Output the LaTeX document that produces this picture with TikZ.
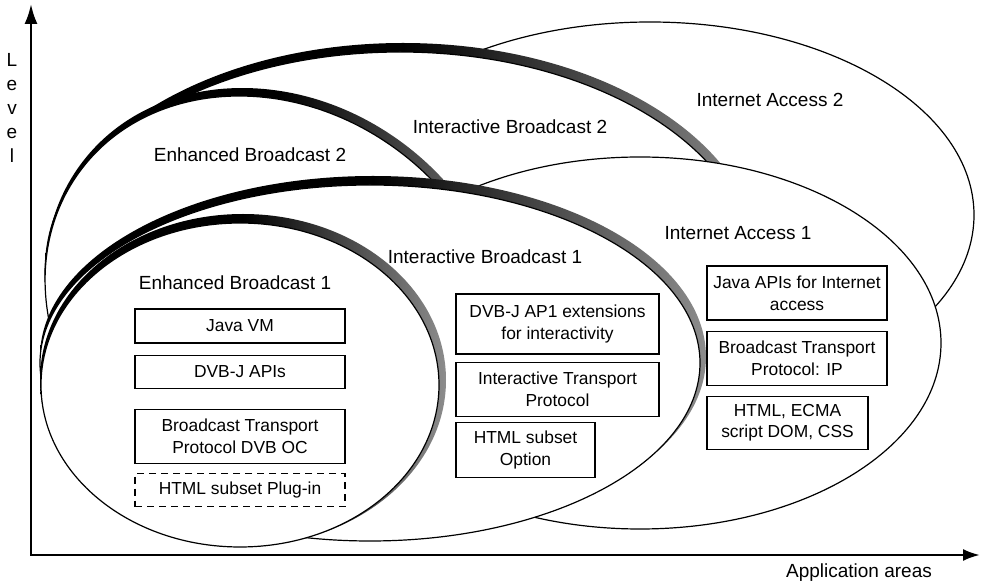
\documentclass[tikz,border=0pt]{standalone}
\usepackage{fontspec}
\setmainfont{Liberation Sans}
\usetikzlibrary{positioning, arrows.meta}
\tikzset{
	arealine/.style={draw=black, line width=0.6pt, fill=white},
	rimshade/.style={left color=black, right color=black!45, middle color=black},
	arealabel/.style={font=\fontsize{9.5}{11}\selectfont},
	block/.style={rectangle, draw=black, line width=0.6pt, fill=white,
		align=center, inner sep=1pt, font=\fontsize{8.7}{10.8}\selectfont},
	optblock/.style={block, dashed, dash pattern=on 3.5pt off 2.5pt},
	axisarrow/.style={{Latex[length=10pt, width=6.5pt]}-{Latex[length=8.5pt, width=6pt]},
		line width=1.25pt}
}
\begin{document}
\begin{tikzpicture}[x=0.5pt, y=-0.5pt]
			\useasboundingbox (0,0) rectangle (981,587);

			\filldraw[arealine] (650,215) ellipse [x radius=324, y radius=193];

			\shade[rimshade] (403,267) ellipse [x radius=358, y radius=224];
			\filldraw[arealine] (400,273) ellipse [x radius=355, y radius=221];

			\shade[rimshade, rotate around={-36:(278,309.5)}] (278,309.5)
			ellipse [x radius=245, y radius=208];
			\filldraw[arealine, rotate around={-36:(275,314.5)}] (275,314.5)
			ellipse [x radius=242, y radius=205];

			\filldraw[arealine] (640,343) ellipse [x radius=301, y radius=186];

			\shade[rimshade] (373,357) ellipse [x radius=333, y radius=181];
			\filldraw[arealine] (370,363) ellipse [x radius=330, y radius=178];

			\shade[rimshade] (243,380) ellipse [x radius=203, y radius=166];
			\filldraw[arealine] (240,385) ellipse [x radius=199, y radius=162];

			\coordinate (origin) at (31,555);
			\coordinate (ytip) at (31,4);
			\coordinate (xtip) at (980,555);
			\draw[axisarrow] (ytip) -- (origin) -- (xtip);

			\node[arealabel, align=center, font=\fontsize{9.5}{12}\selectfont] (level) at (12,108)
			{L\\e\\v\\e\\l};
			\node[arealabel] (appareas) at (859,573) {Application areas};

			\node[arealabel] (ia2) at (770,100) {Internet Access 2};
			\node[arealabel] (ib2) at (510,127) {Interactive Broadcast 2};
			\node[arealabel] (eb2) at (250,155) {Enhanced Broadcast 2};
			\node[arealabel] (ia1) at (738,233) {Internet Access 1};
			\node[arealabel] (ib1) at (485,257) {Interactive Broadcast 1};
			\node[arealabel] (eb1) at (235,283) {Enhanced Broadcast 1};

			\node[block, minimum width=105pt, minimum height=17pt] (jvm) at (240,326)
			{Java VM};
			\node[block, minimum width=105pt, minimum height=16.5pt, below=5.5pt of jvm] (dvbj)
			{DVB-J APIs};
			\node[block, minimum width=105pt, minimum height=27pt, below=10pt of dvbj] (bcoc)
			{Broadcast Transport\\Protocol DVB OC};
			\node[optblock, minimum width=105pt, minimum height=16.5pt, below=4.5pt of bcoc] (htmlplug)
			{HTML subset Plug-in};

			\node[block, minimum width=101.5pt, minimum height=30pt] (dvbjext) at (557.5,324)
			{DVB-J AP1 extensions\\for interactivity};
			\node[block, minimum width=101.5pt, minimum height=27pt, below=3.5pt of dvbjext] (itp)
			{Interactive Transport\\Protocol};
			\node[block, minimum width=69.5pt, minimum height=27.5pt,
			below=2.5pt of itp.south west, anchor=north west] (htmlopt)
			{HTML subset\\Option};

			\node[block, minimum width=90pt, minimum height=27pt] (javanet) at (797,293)
			{Java APIs for Internet\\access};
			\node[block, minimum width=90pt, minimum height=27pt, below=5pt of javanet] (bcip)
			{Broadcast Transport\\Protocol: IP};
			\node[block, minimum width=80.5pt, minimum height=26.5pt,
			below=5pt of bcip.south west, anchor=north west] (ecma)
			{HTML, ECMA\\script DOM, CSS};
		\end{tikzpicture}
\end{document}
